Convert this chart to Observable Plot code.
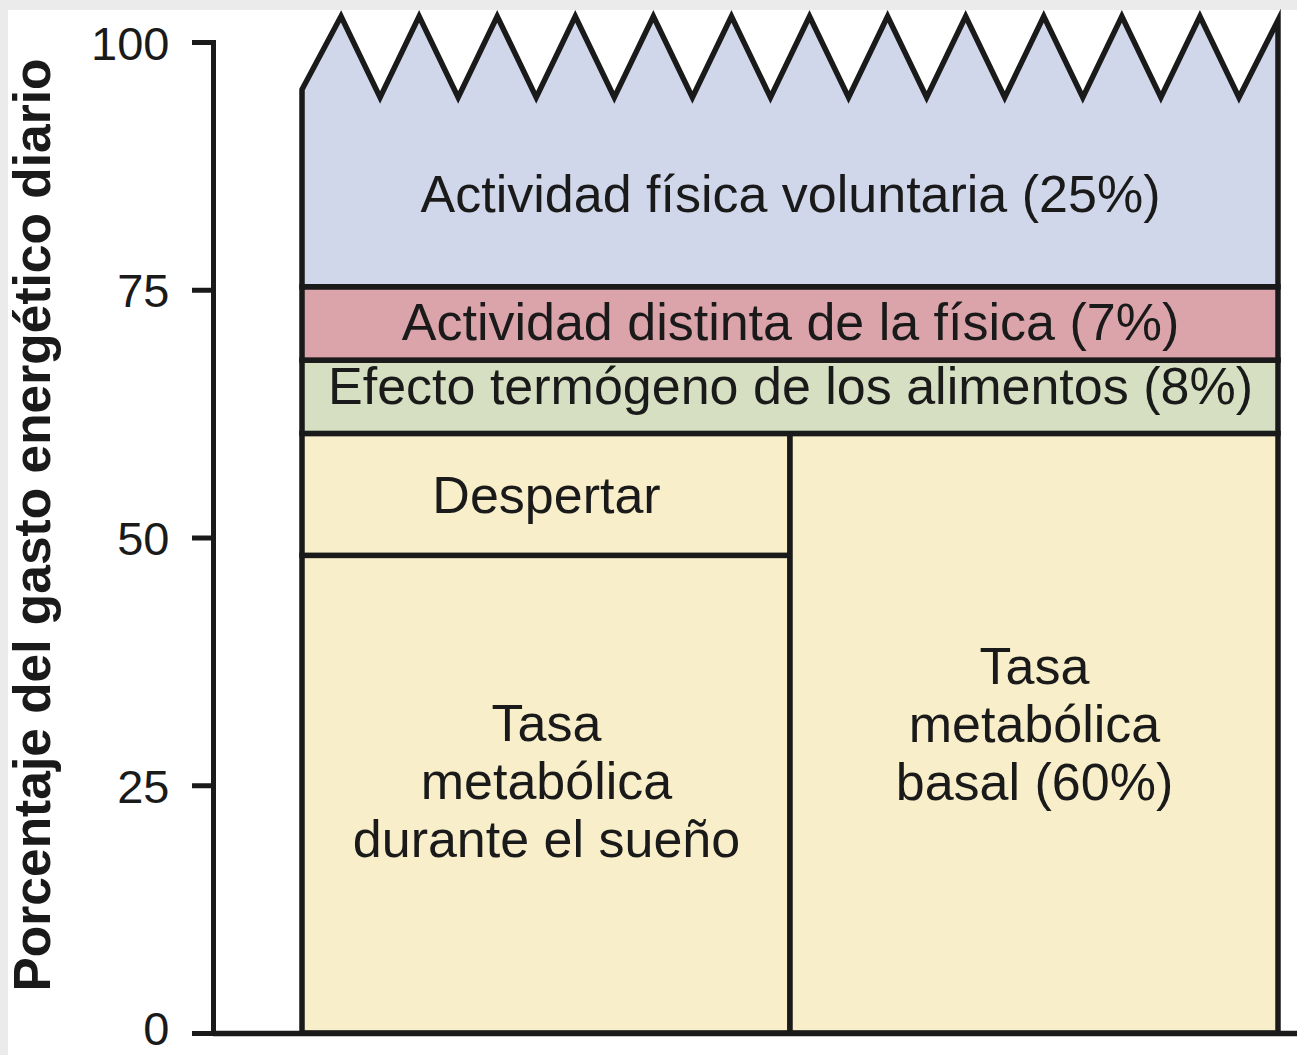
<!DOCTYPE html>
<html>
<head>
<meta charset="utf-8">
<script src="https://cdn.jsdelivr.net/npm/d3@7"></script>
<script src="https://cdn.jsdelivr.net/npm/@observablehq/plot@0.6"></script>
<style>
html, body { margin: 0; padding: 0; background: #ffffff; }
#wrap { width: 1289px; height: 1045px; border-top: 10px solid #ebebeb; border-left: 8px solid #ebebeb; background: #ffffff; }
#wrap svg { display: block; }
</style>
</head>
<body>
<div id="wrap"></div>
<script>
// ---- data ----
const yTicks = [0, 25, 50, 75, 100];
const yTitle = "Porcentaje del gasto energético diario";

const blockKeys   = ["sueno", "despertar", "basal", "termogeno", "distinta"];
const blockLabels = [
  "Tasa\nmetabólica\ndurante el sueño",
  "Despertar",
  "Tasa\nmetabólica\nbasal (60%)",
  "Efecto termógeno de los alimentos (8%)",
  "Actividad distinta de la física (7%)"
];
const blockX1   = [0, 0, 50, 0, 0];
const blockX2   = [50, 50, 100, 100, 100];
const blockLow  = [0, 48.2, 0, 60.5, 67.9];
const blockHigh = [48.2, 60.5, 60.5, 67.9, 75.3];

const voluntaryKey = "voluntaria";
const voluntaryLabel = "Actividad física voluntaria (25%)";
const voluntaryBase = 75.3;
const zigX   = [0, 4, 8, 12, 16, 20, 24, 28, 32, 36, 40, 44, 48, 52, 56, 60, 64, 68, 72, 76, 80, 84, 88, 92, 96, 100];
const zigTop = [95.2, 102.6, 94.4, 102.6, 94.4, 102.6, 94.4, 102.6, 94.4, 102.6, 94.4, 102.6, 94.4,
                102.6, 94.4, 102.6, 94.4, 102.6, 94.4, 102.6, 94.4, 102.6, 94.4, 102.6, 94.4, 102.2];

// ---- styles ----
const fills = {
  sueno: "#f8eec9", despertar: "#f8eec9", basal: "#f8eec9",
  termogeno: "#d6dfc1", distinta: "#dba4aa", voluntaria: "#d1d7ea"
};
const labelDy = { sueno: -14, despertar: 0, basal: -10, termogeno: -12, distinta: -3, voluntaria: 3 };
const ink = "#1a1a1a";
const lineW = 5.5;
const font = "'Liberation Sans', Arial, Helvetica, sans-serif";

// ---- tables built from arrays ----
const blocks = blockKeys.map((k, i) => ({
  key: k, label: blockLabels[i], x1: blockX1[i], x2: blockX2[i], y1: blockLow[i], y2: blockHigh[i]
}));
const zig = zigX.map((x, i) => ({ x, top: zigTop[i] }));
const valley = d3.min(zigTop);

const labelMarks = blocks.map(b =>
  Plot.text([b], {
    x: d => (d.x1 + d.x2) / 2,
    y: d => (d.y1 + d.y2) / 2,
    text: "label",
    fontSize: 52,
    lineHeight: 1.115,
    fill: ink,
    textAnchor: "middle",
    lineAnchor: "middle",
    dy: labelDy[b.key]
  })
);
labelMarks.push(
  Plot.text([voluntaryLabel], {
    x: () => (zigX[0] + zigX[zigX.length - 1]) / 2,
    y: () => (voluntaryBase + valley) / 2,
    text: d => d,
    fontSize: 52,
    fill: ink,
    textAnchor: "middle",
    lineAnchor: "middle",
    dy: labelDy[voluntaryKey]
  })
);

const chart = Plot.plot({
  width: 1289,
  height: 1045,
  marginLeft: 205,
  marginRight: 0,
  marginTop: 32,
  marginBottom: 22,
  style: { fontFamily: font, background: "#ffffff", color: ink, overflow: "visible" },
  x: { domain: [-9.119, 101.947], axis: null },
  y: { domain: [0, 100] },
  marks: [
    Plot.rect(blocks, {
      x1: "x1", x2: "x2", y1: "y1", y2: "y2",
      fill: d => fills[d.key],
      stroke: ink, strokeWidth: lineW
    }),
    Plot.areaY(zig, {
      x: "x", y1: () => voluntaryBase, y2: "top",
      fill: fills[voluntaryKey],
      stroke: ink, strokeWidth: lineW, strokeLinejoin: "miter", strokeMiterlimit: 10
    }),
    Plot.ruleY([0], { stroke: ink, strokeWidth: lineW }),
    Plot.frame({ anchor: "left", stroke: ink, strokeWidth: 5 }),
    // tick lines only
    Plot.axisY(yTicks, { tickSize: 21, strokeWidth: 5, stroke: ink, fill: "none", label: null }),
    // tick labels (the lowest one nudged up to stay inside the picture)
    Plot.axisY(yTicks.filter(t => t > 0), {
      tickSize: 0, tickPadding: 44, fontSize: 47, stroke: "none", fill: ink, dy: 2, label: null
    }),
    Plot.axisY(yTicks.filter(t => t === 0), {
      tickSize: 0, tickPadding: 44, fontSize: 47, stroke: "none", fill: ink, dy: -4, label: null
    }),
    Plot.text([yTitle], {
      text: d => d,
      frameAnchor: "left",
      rotate: -90,
      dx: -200,
      dy: -13,
      lineAnchor: "top",
      textAnchor: "middle",
      fontSize: 51.5,
      fontWeight: "bold",
      fill: ink
    }),
    ...labelMarks
  ]
});

document.getElementById("wrap").appendChild(chart);
</script>
</body>
</html>
